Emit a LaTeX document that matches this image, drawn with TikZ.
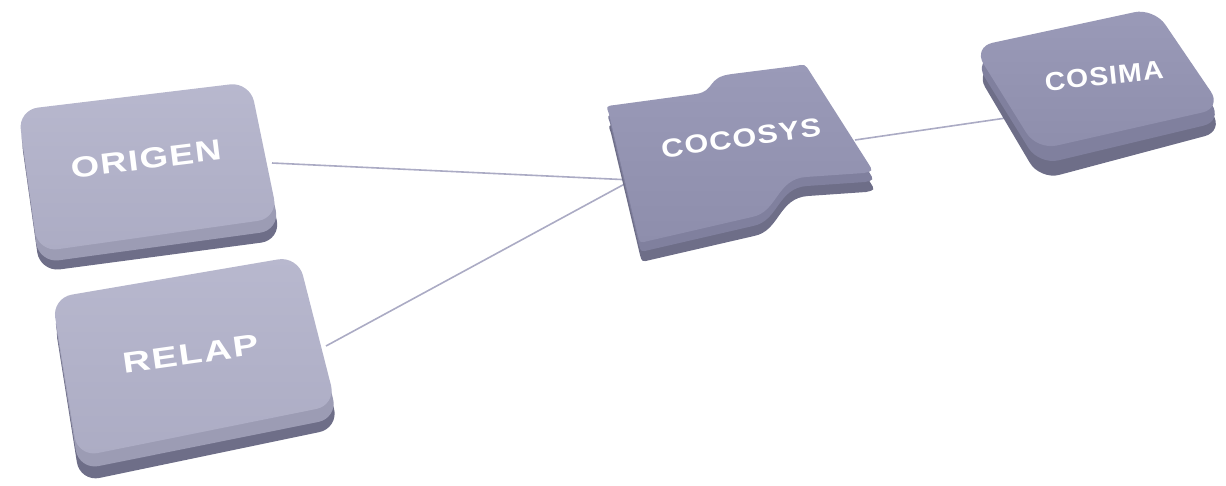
\documentclass[tikz,border=0pt]{standalone}
\usepackage{fontspec}
\setmainfont{Liberation Sans}
\newfontfamily\tilefont[LetterSpace=4]{Liberation Sans}
\usetikzlibrary{positioning,calc}

\definecolor{lavlight}{HTML}{B8B8CE}
\definecolor{lavlightb}{HTML}{ACACC4}
\definecolor{lavlightbev}{HTML}{9C9CB4}
\definecolor{lavdark}{HTML}{9A9AB8}
\definecolor{lavdarkb}{HTML}{8E8EAC}
\definecolor{lavdarkbev}{HTML}{80809E}
\definecolor{lavside}{HTML}{6E6E88}
\definecolor{lavline}{HTML}{ABABC4}

% wavy outline of the COCOSYS tile
\newcommand\cocosysoutline{(609,114) .. controls (606,106) .. (615,105) -- (696,94)
  .. controls (716,91) and (706,77) .. (732,74) -- (795,66)
  .. controls (805,64) .. (810,72) -- (868,163) .. controls (873,171) .. (864,173)
  -- (806,177) .. controls (776,179) and (778,212) .. (752,217) -- (648,241)
  .. controls (640,243) .. (638,236) -- cycle}

\begin{document}
\begin{tikzpicture}[
    x=1pt, y=-1pt,
    tileside/.style={fill=lavside, rounded corners=20pt},
    lightbev/.style={fill=lavlightbev, rounded corners=20pt},
    darkbev/.style={fill=lavdarkbev, rounded corners=20pt},
    lighttop/.style={top color=lavlight, bottom color=lavlightb, rounded corners=20pt},
    darktop/.style={top color=lavdark, bottom color=lavdarkb, rounded corners=20pt},
    lbl/.style={font=\tilefont\fontsize{29}{29}\selectfont\bfseries, text=white, inner sep=0pt},
    smalllbl/.style={lbl, font=\tilefont\fontsize{26}{26}\selectfont\bfseries},
    link/.style={draw=lavline, line width=1.6pt},
  ]
  \useasboundingbox (0,0) rectangle (1226,485);

  % --- connector ends ---
  \coordinate (origen-e) at (272,163);
  \coordinate (relap-e) at (326,346);
  \coordinate (cocosys-w) at (632,180);
  \coordinate (cocosys-e) at (855,140);
  \coordinate (cosima-w) at (1006,118);

  \draw[link] (origen-e) -- (cocosys-w);
  \draw[link] (relap-e) -- (cocosys-w);
  \draw[link] (cocosys-e) -- (cosima-w);

  % --- ORIGEN tile ---
  \fill[tileside] (20,130) -- (251,101) -- (281,240) -- (40,272) -- cycle;
  \fill[lightbev] (19,120) -- (250,91) -- (280,230) -- (39,263) -- cycle;
  \shade[lighttop] (18,110) -- (250,82) -- (278,218) -- (38,252) -- cycle;
  \node[lbl, rotate=7, xscale=1.26] (origen) at (146,159) {ORIGEN};

  % --- RELAP tile ---
  \fill[tileside] (54,318) -- (300,276) -- (339,428) -- (80,482) -- cycle;
  \fill[lightbev] (53,308) -- (299,266) -- (338,418) -- (79,470) -- cycle;
  \shade[lighttop] (52,298) -- (298,256) -- (336,405) -- (78,457) -- cycle;
  \node[lbl, rotate=8, xscale=1.33] (relap) at (191,354) {RELAP};

  % --- COCOSYS tile ---
  \fill[lavside, shift={(2,19)}] \cocosysoutline;
  \fill[lavdarkbev, shift={(1,9)}] \cocosysoutline;
  \shade[top color=lavdark, bottom color=lavdarkb] \cocosysoutline;
  \node[smalllbl, rotate=8, xscale=1.18] (cocosys) at (741,138) {COCOSYS};

  % --- COSIMA tile ---
  \fill[tileside] (975,70) -- (1156,30) -- (1224,131) -- (1040,180) -- cycle;
  \fill[darkbev] (974,60) -- (1155,20) -- (1223,121) -- (1039,165) -- cycle;
  \shade[darktop] (973,47) -- (1154,8) -- (1222,108) -- (1037,150) -- cycle;
  \node[smalllbl, rotate=6, xscale=1.09] (cosima) at (1104,76) {COSIMA};
\end{tikzpicture}
\end{document}
